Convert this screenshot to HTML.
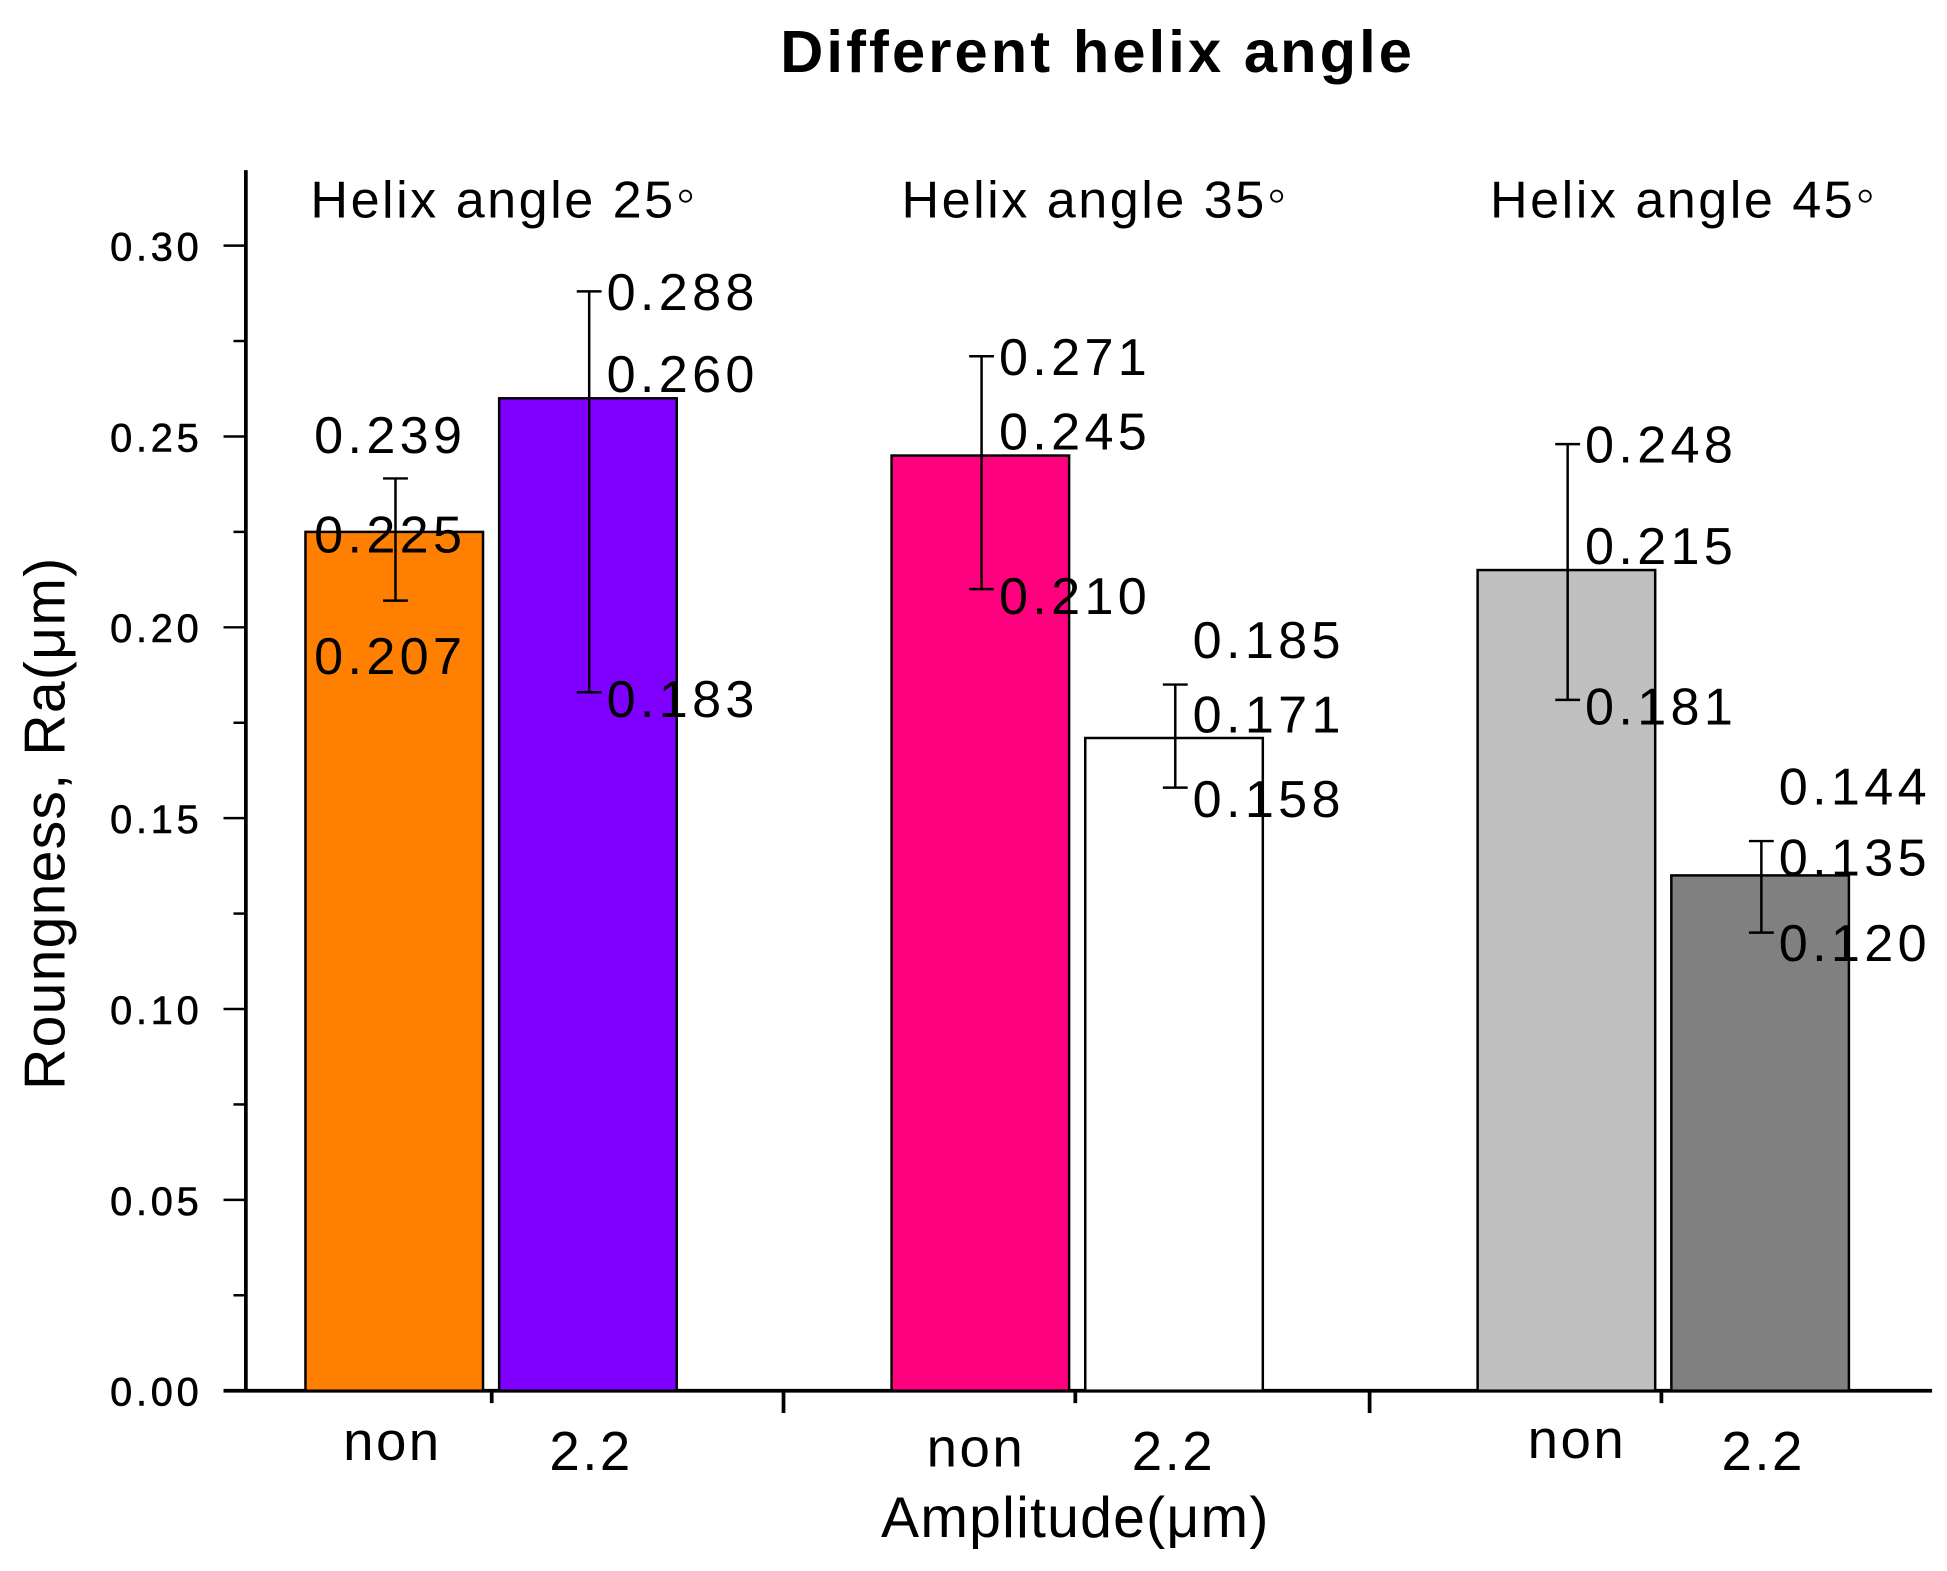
<!DOCTYPE html>
<html><head><meta charset="utf-8"><style>
html,body{margin:0;padding:0;background:#fff;}
svg{display:block;font-family:"Liberation Sans",Arial,sans-serif;}
</style></head><body>
<svg id="chart" width="1947" height="1571" viewBox="0 0 1568 1265.2" xmlns="http://www.w3.org/2000/svg">
<rect width="1568" height="1266" fill="#fff"/>
<text x="884" y="58" font-size="48" font-weight="bold" letter-spacing="2.5" text-anchor="middle">Different helix angle</text>
<text transform="translate(52,663) rotate(-90)" font-size="46" letter-spacing="1" text-anchor="middle">Roungness, Ra(μm)</text>
<text x="866" y="1238" font-size="46" letter-spacing="1" text-anchor="middle">Amplitude(μm)</text>
<g id="marks"></g>
</svg>
<script>
const groups = ["Helix angle 25°", "Helix angle 35°", "Helix angle 45°"];
const categories = ["non", "2.2", "non", "2.2", "non", "2.2"];
const means = [0.225, 0.260, 0.245, 0.171, 0.215, 0.135];
const uppers = [0.239, 0.288, 0.271, 0.185, 0.248, 0.144];
const lowers = [0.207, 0.183, 0.210, 0.158, 0.181, 0.120];
const yTicks = [0.00, 0.05, 0.10, 0.15, 0.20, 0.25, 0.30];
const yTickLabels = ["0.00", "0.05", "0.10", "0.15", "0.20", "0.25", "0.30"];

const NS = "http://www.w3.org/2000/svg";
const g = document.getElementById("marks");
const colors = ["#ff7f00", "#7f00ff", "#ff007f", "#ffffff", "#c0c0c0", "#808080"];
const barLeft = [246, 402, 718, 874, 1190, 1346];
const barW = 143;
function y(v){ return 1120 - v / 0.05 * 153.7; }
function mk(tag, attrs, text){
  const e = document.createElementNS(NS, tag);
  for (const k in attrs) e.setAttribute(k, attrs[k]);
  if (text !== undefined) e.textContent = text;
  g.appendChild(e);
  return e;
}
let ax = mk("line", {x1:198, y1:137, x2:198, y2:1121, stroke:"#000", "stroke-width":3});


ax = mk("line", {x1:180, y1:1120, x2:1556, y2:1120, stroke:"#000", "stroke-width":3});


yTicks.forEach((t, i) => {
  const tk = mk("line", {x1:180, y1:y(t), x2:198, y2:y(t), stroke:"#000", "stroke-width":2});
  
  
  const lb = mk("text", {x:163, y:y(t) + 12, "font-size":32, "letter-spacing":"3", "text-anchor":"end", stroke:"#000", "stroke-width":0.5}, yTickLabels[i]);
  
  
  if (i < yTicks.length - 1) {
    const mt = mk("line", {x1:188, y1:y(t + 0.025), x2:198, y2:y(t + 0.025), stroke:"#000", "stroke-width":2});
    
    
  }
});
[[396,1130],[631,1138],[866,1130],[1103,1138],[1338,1130]].forEach(p => {
  const tk = mk("line", {x1:p[0], y1:1120, x2:p[0], y2:p[1], stroke:"#000", "stroke-width":3});
  
  
});
const groupX = [250, 726, 1200];
groups.forEach((gname, i) => {
  const t = mk("text", {x:groupX[i], y:175, "font-size":42, "letter-spacing":"2"}, gname.replace("°", ""));
  
  
  const w = t.getComputedTextLength ? t.getComputedTextLength() : 300;
  const d = mk("circle", {cx:groupX[i] + w + 8, cy:158, r:4.5, fill:"none", stroke:"#000", "stroke-width":1.5});
  
  
});
const catX = [316, 476, 786, 945, 1270, 1420];
const catY = [1176, 1184, 1181, 1184, 1174, 1184];
means.forEach((m, i) => {
  const x0 = barLeft[i], cx = x0 + barW / 2 + 1;
  const b = mk("rect", {x:x0, y:y(m), width:barW, height:1120 - y(m), fill:colors[i], stroke:"#000", "stroke-width":2});
  
  
  const e = mk("path", {d:`M${cx},${y(uppers[i])}V${y(lowers[i])}M${cx-10},${y(uppers[i])}H${cx+10}M${cx-10},${y(lowers[i])}H${cx+10}`, stroke:"#000", "stroke-width":2, fill:"none"});
  
  
  const lx = i === 0 ? 253 : cx + 14;
  let pos;
  if (i === 0) pos = [365, 445, 543];
  else if (i === 3) pos = [530, 590, 658];
  else if (i === 5) pos = [648, 705, 774];
  else pos = [y(uppers[i]) + 15, y(m) - 5, y(lowers[i]) + 20];
  [uppers[i], m, lowers[i]].forEach((v, k) => {
    const t = mk("text", {x:lx, y:pos[k], "font-size":42, "letter-spacing":"3.5"}, v.toFixed(3));
    
    
  });
  const c = mk("text", {x:catX[i], y:catY[i], "font-size":44, "letter-spacing":"2", "text-anchor":"middle"}, categories[i]);
  
  
});
</script>
</body></html>
